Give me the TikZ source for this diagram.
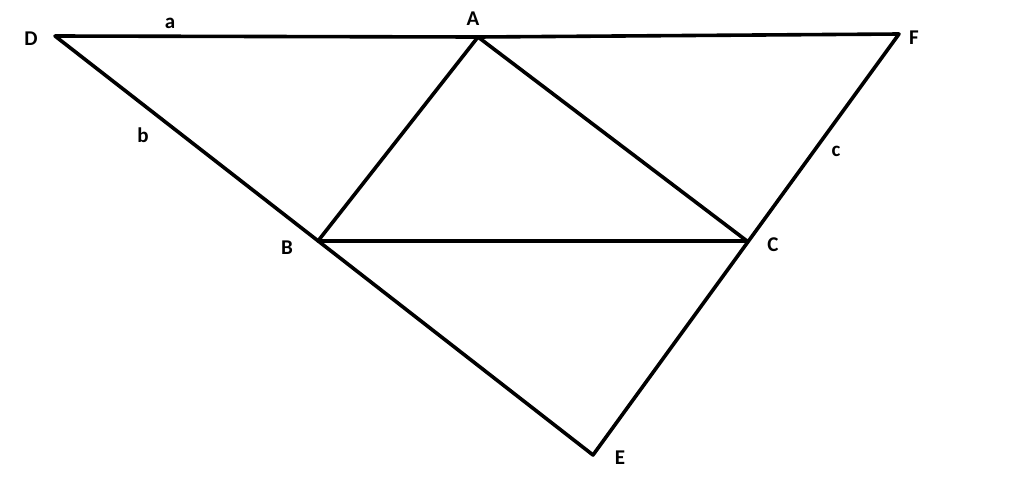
\documentclass[tikz,border=0pt]{standalone}
\usepackage{fontspec}
\setmainfont{Carlito}
\begin{document}
\begin{tikzpicture}[x=1pt,y=-1pt,
  seg/.style={line width=3.6pt,line cap=round,line join=round},
  lbl/.style={font=\fontsize{21}{24}\selectfont\bfseries,inner sep=0pt}]
\useasboundingbox[fill=white] (0,0) rectangle (1024,477);
\coordinate (D) at (55,36);
\coordinate (A) at (478,37);
\coordinate (F) at (899,34);
\coordinate (B) at (318,241);
\coordinate (C) at (747,241);
\coordinate (E) at (593,455);
\draw[seg] (D) -- (A) -- (F) -- (E) -- (D);
\draw[seg] (A) -- (B) -- (C) -- cycle;
\node[lbl] (lD) at (31,39) {D};
\node[lbl] (la) at (170,23) {a};
\node[lbl] (lA) at (473,19) {A};
\node[lbl] (lF) at (914,38) {F};
\node[lbl] (lb) at (143,135) {b};
\node[lbl] (lc) at (836,151) {c};
\node[lbl] (lB) at (287,248) {B};
\node[lbl] (lC) at (773,245) {C};
\node[lbl] (lE) at (620,458) {E};
\end{tikzpicture}
\end{document}
